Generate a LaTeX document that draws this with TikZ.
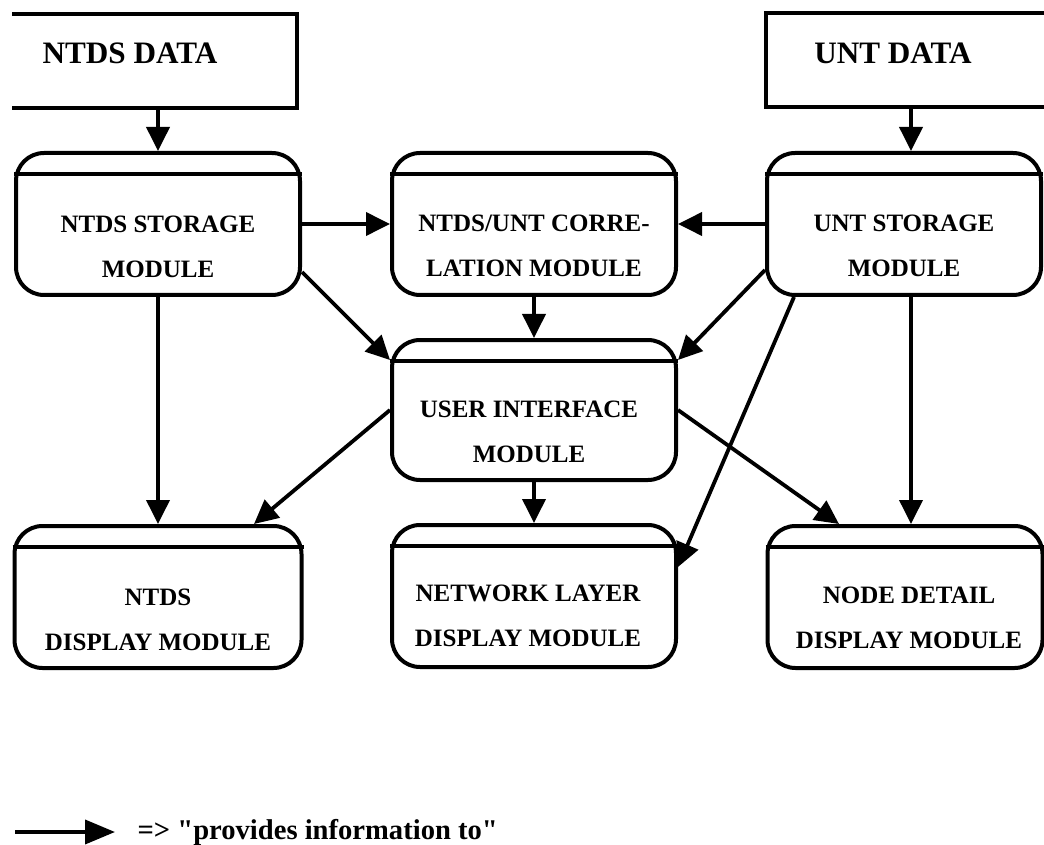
\documentclass[tikz,border=0pt]{standalone}
\usepackage{fontspec}
\setmainfont{Liberation Serif}
% no TeX ligatures here, so the quotes stay straight
\newfontfamily\keyfont{Liberation Serif}
\usetikzlibrary{arrows.meta}

\begin{document}
\begin{tikzpicture}[
	x=0.5pt, y=-0.5pt,
	line width=2pt,
	flow/.style={line width=1.9pt, -{Triangle[length=12pt,width=11.5pt]}}]

\tikzstyle{module} = [
    draw,
    rounded corners = 14pt,
    minimum width = 142pt,
    minimum height = 71pt
]
\tikzstyle{databox} = [
    outer sep = 0pt,
    minimum width = 142.5pt,
    minimum height = 47pt
]
\tikzstyle{modtext} = [
    align = center,
    font = \bfseries\fontsize{12.5}{22.5}\selectfont
]
\tikzstyle{datatext} = [
    font = \bfseries\fontsize{15.6}{18}\selectfont
]

\useasboundingbox (0,0) rectangle (1044,845);

% data sources, open towards the page edge
\node [databox] (ntdsdata) at (154.5,61) {};
\node [databox, minimum width = 147pt] (untdata) at (913,60.5) {};
\draw (ntdsdata.north west) -- (ntdsdata.north east)
    -- (ntdsdata.south east) -- (ntdsdata.south west);
\draw (untdata.north east) -- (untdata.north west)
    -- (untdata.south west) -- (untdata.south east);
\node [datatext] (ntdsdata-t) at (130,53) {NTDS DATA};
\node [datatext] (untdata-t) at (893,53) {UNT DATA};

% modules
\node [module] (ntdsstore) at (158,224) {};
\node [module] (corr) at (534,224) {};
\node [module, minimum width = 137pt] (untstore) at (904,224) {};
\node [module, minimum height = 70pt] (ui) at (534,410) {};
\node [module, minimum width = 143.5pt] (ntdsdisp) at (158,597) {};
\node [module] (netdisp) at (534,596) {};
\node [module, minimum width = 137.5pt] (nodedisp) at (905,597) {};

\foreach \m in {ntdsstore,corr,untstore,ui,ntdsdisp,netdisp,nodedisp}
    \draw ([yshift=-11.5pt]\m.north west) -- ([yshift=-11.5pt]\m.north east);

\node [modtext] (ntdsstore-t) at ([yshift=-11.5pt]ntdsstore.center) {NTDS STORAGE\\MODULE};
\node [modtext] (corr-t) at ([yshift=-11pt]corr.center) {NTDS/UNT CORRE-\\LATION MODULE};
\node [modtext] (untstore-t) at ([yshift=-11pt]untstore.center) {UNT STORAGE\\MODULE};
\node [modtext] (ui-t) at ([xshift=-2.5pt,yshift=-11pt]ui.center) {USER INTERFACE\\MODULE};
\node [modtext] (ntdsdisp-t) at ([yshift=-11.5pt]ntdsdisp.center) {NTDS\\DISPLAY MODULE};
\node [modtext] (netdisp-t) at ([xshift=-3pt,yshift=-10pt]netdisp.center) {NETWORK LAYER\\DISPLAY MODULE};
\node [modtext] (nodedisp-t) at ([xshift=2pt,yshift=-10.5pt]nodedisp.center) {NODE DETAIL\\DISPLAY MODULE};

% information flow
\coordinate (untin) at ([xshift=3.5pt]untstore.north);
\coordinate (untout) at ([xshift=3.5pt]untstore.south);

\draw [flow] (ntdsdata.south -| ntdsstore.north) -- (ntdsstore.north);
\draw [flow] (untin |- untdata.south) -- (untin);
\draw [flow] (ntdsstore.east) -- (corr.west);
\draw [flow] (untstore.west) -- (corr.east);
\draw [flow] (corr.south) -- (ui.north);
\draw [flow] ([yshift=-24pt]ntdsstore.east) -- ([yshift=-11pt]ui.north west);
\draw [flow] ([yshift=-23pt]untstore.west) -- ([yshift=-11pt]ui.north east);
\draw [flow] ([xshift=-55pt]untstore.south) -- ([yshift=-22pt]netdisp.north east);
\draw [flow] (ntdsstore.south) -- (ntdsstore.south |- ntdsdisp.north);
\draw [flow] (untout) -- (untout |- nodedisp.north);
\draw [flow] (ui.west) -- ([xshift=48pt]ntdsdisp.north);
\draw [flow] (ui.south) -- (netdisp.north);
\draw [flow] (ui.east) -- ([xshift=-33pt]nodedisp.north);

% key
\coordinate (key-from) at (15,832);
\coordinate (key-to) at (115,832);
\draw [flow, -{Triangle[length=15pt,width=12pt]}] (key-from) -- (key-to);
\node [anchor=west, font=\keyfont\bfseries\fontsize{14.3}{16}\selectfont] (key) at (129,832)
    {=> "provides information to"};

\end{tikzpicture}
\end{document}
